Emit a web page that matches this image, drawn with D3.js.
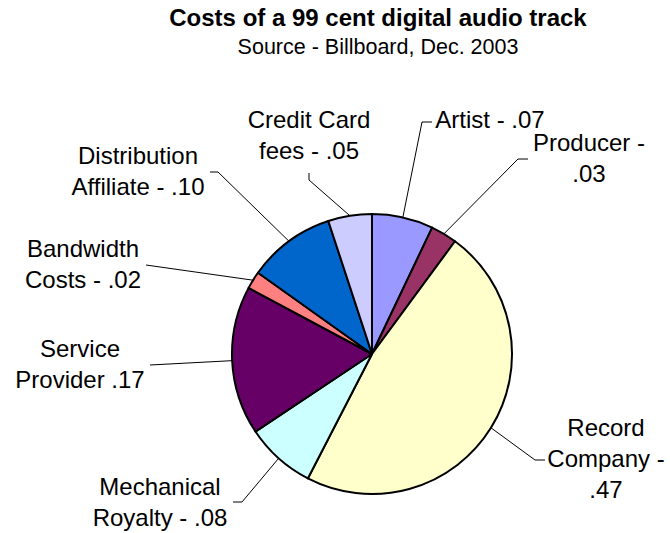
<!DOCTYPE html>
<html>
<head>
<meta charset="utf-8">
<script src="https://cdn.jsdelivr.net/npm/d3@7"></script>
<style>
  body { margin: 0; background: #fff; }
  text { font-family: "Liberation Sans", Arial, sans-serif; fill: #000; }
</style>
</head>
<body>
<svg id="chart" width="670" height="533"></svg>
<script>
// data
const categories = ["Artist", "Producer", "Record Company", "Mechanical Royalty",
  "Service Provider", "Bandwidth Costs", "Distribution Affiliate", "Credit Card fees"];
const values = [0.07, 0.03, 0.47, 0.08, 0.17, 0.02, 0.10, 0.05];
const labelLines = [
  ["Artist - .07"],
  ["Producer -", ".03"],
  ["Record", "Company -", ".47"],
  ["Mechanical", "Royalty - .08"],
  ["Service", "Provider .17"],
  ["Bandwidth", "Costs - .02"],
  ["Distribution", "Affiliate - .10"],
  ["Credit Card", "fees - .05"]
];
const colors = ["#9999FF", "#993366", "#FFFFCC", "#CCFFFF", "#660066", "#FF8080", "#0066CC", "#CCCCFF"];

// label layout: text center + first baseline, leader elbow + end
const labelLayout = [
  {x: 490, y: 128, elbow: [422, 122], end: [432, 122]},
  {x: 589, y: 151, elbow: [518, 159], end: [528, 159]},
  {x: 606, y: 436, elbow: [535, 460], end: [545, 460]},
  {x: 160, y: 495, elbow: [242, 502], end: [233, 502]},
  {x: 80,  y: 357, elbow: [150, 365], end: [150, 365]},
  {x: 83,  y: 257, elbow: [146, 265], end: [146, 265]},
  {x: 138, y: 164, elbow: [218, 172], end: [210, 172]},
  {x: 309, y: 128, elbow: [309, 180], end: [309, 173]}
];

const svg = d3.select("#chart");
const cx = 372, cy = 354, r = 140;
const lineH = 31;

// title
svg.append("text")
  .attr("x", 378).attr("y", 26)
  .attr("text-anchor", "middle")
  .style("font-size", "24px").style("font-weight", "bold")
  .text("Costs of a 99 cent digital audio track");
svg.append("text")
  .attr("x", 378).attr("y", 54)
  .attr("text-anchor", "middle")
  .style("font-size", "21.5px")
  .text("Source - Billboard, Dec. 2003");

const data = categories.map((c, i) => ({name: c, value: values[i], i}));

const pie = d3.pie().sort(null).value(d => d.value);
const arc = d3.arc().innerRadius(0).outerRadius(r);
const arcs = pie(data);

const g = svg.append("g").attr("transform", `translate(${cx},${cy})`);

g.selectAll("path.slice")
  .data(arcs)
  .join("path")
  .attr("class", "slice")
  .attr("d", arc)
  .attr("fill", d => colors[d.data.i])
  .attr("stroke", "#000")
  .attr("stroke-width", 2)
  .attr("stroke-linejoin", "round");

// leader lines
svg.selectAll("path.leader")
  .data(arcs)
  .join("path")
  .attr("class", "leader")
  .attr("fill", "none")
  .attr("stroke", "#000")
  .attr("stroke-width", 1)
  .attr("d", d => {
    const a = (d.startAngle + d.endAngle) / 2;
    const sx = cx + r * Math.sin(a), sy = cy - r * Math.cos(a);
    const L = labelLayout[d.data.i];
    return `M${sx},${sy}L${L.elbow[0]},${L.elbow[1]}L${L.end[0]},${L.end[1]}`;
  });

// labels
const lbl = svg.selectAll("text.lbl")
  .data(data)
  .join("text")
  .attr("class", "lbl")
  .attr("text-anchor", "middle")
  .style("font-size", "24px");

lbl.selectAll("tspan")
  .data(d => labelLines[d.i].map(t => ({t, i: d.i})))
  .join("tspan")
  .attr("x", d => labelLayout[d.i].x)
  .attr("y", (d, j) => labelLayout[d.i].y + j * lineH)
  .text(d => d.t);
</script>
</body>
</html>
